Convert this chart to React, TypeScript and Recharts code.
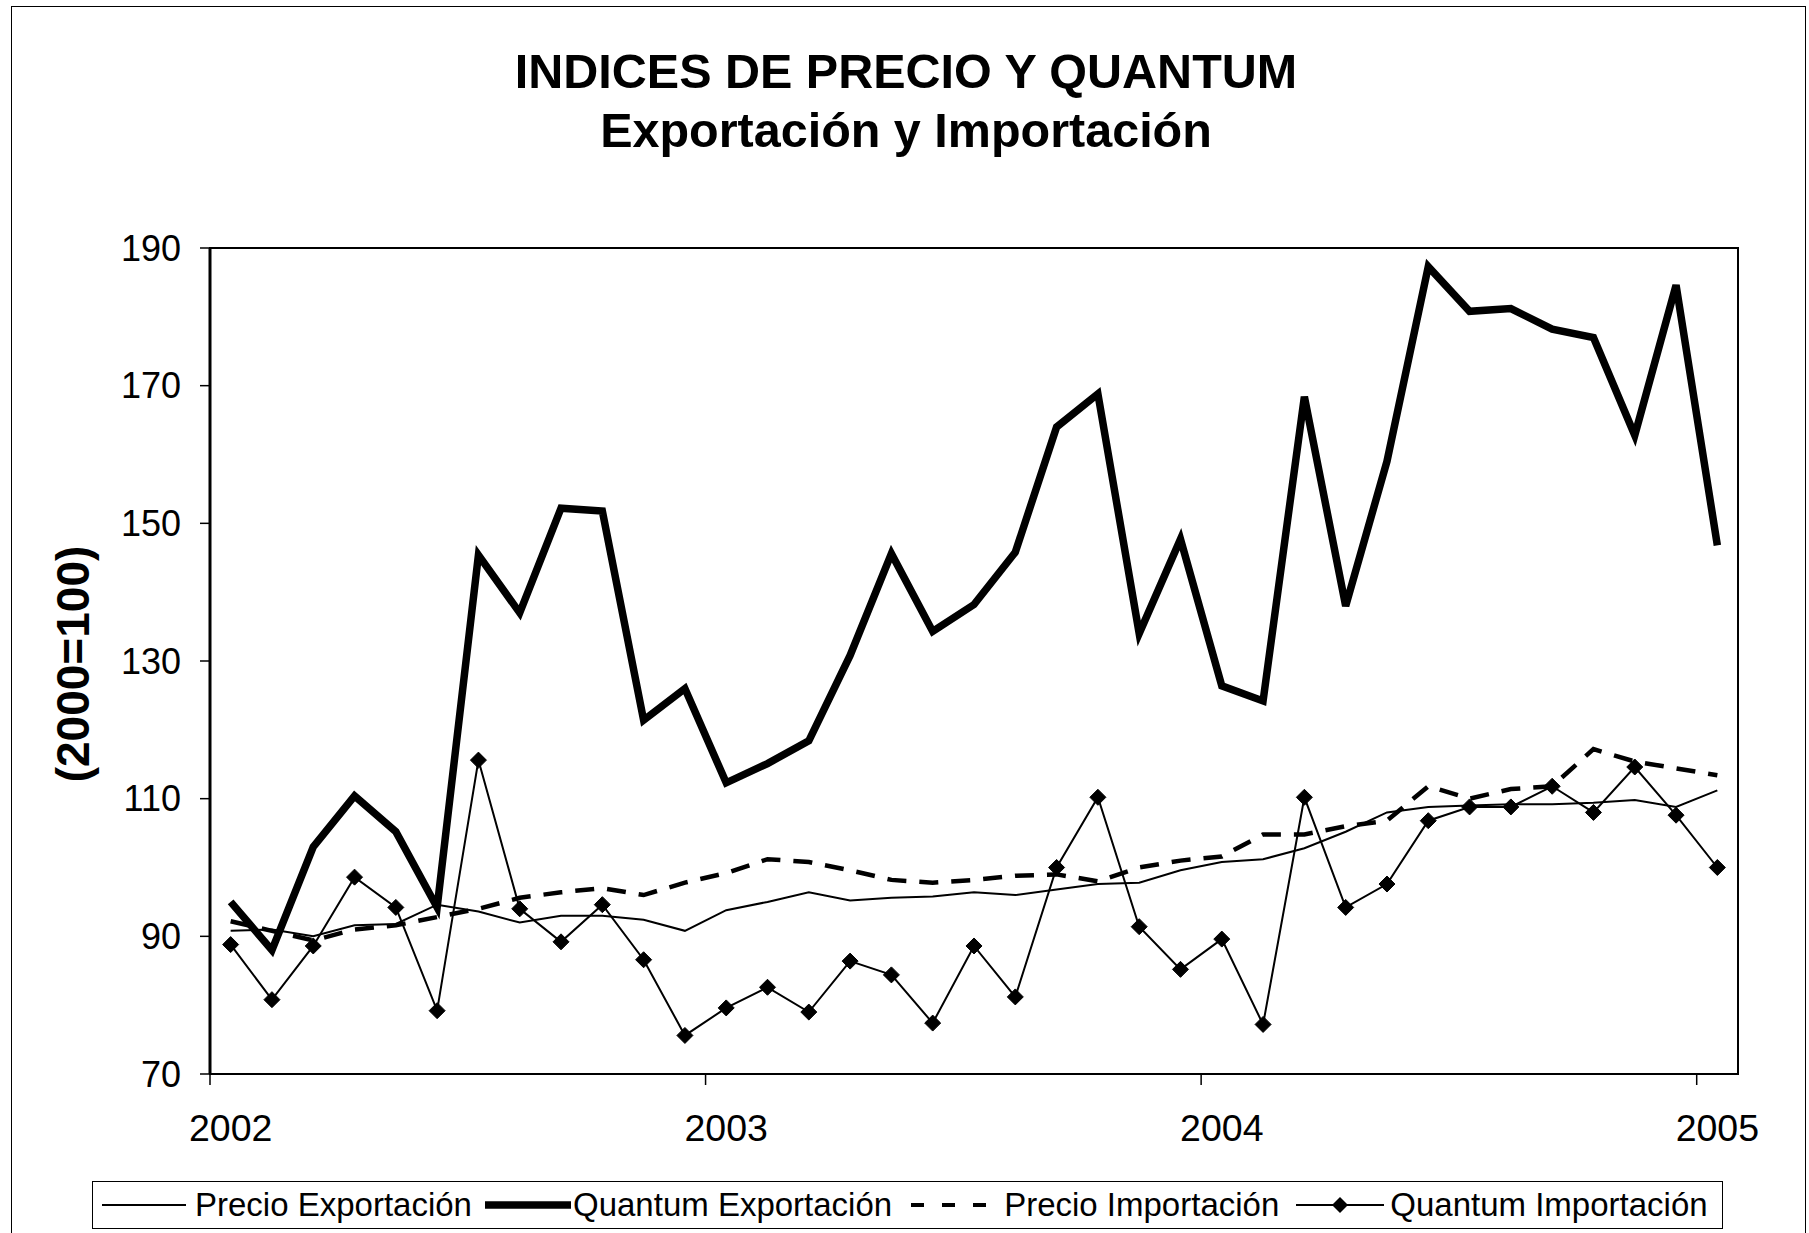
import React from 'react';
import { LineChart, Line, XAxis, YAxis, ReferenceArea, Legend } from 'recharts';

// ---- Data (monthly, Jan 2002 – Jan 2005, index 2000=100) ----
const YEAR_LABELS = ['2002', '2003', '2004', '2005'];
const X_TICKS = [0, 12, 24, 36];
const Y_TICKS = [70, 90, 110, 130, 150, 170, 190];

const precioExportacion = [
  90.8, 91, 90, 91.6, 91.8, 94.6, 93.6, 92, 93, 93, 92.4, 90.8,
  93.8, 95, 96.4, 95.2, 95.6, 95.8, 96.4, 96, 96.8, 97.6, 97.8, 99.6,
  100.8, 101.2, 102.8, 105.2, 108, 108.8, 109, 109.2, 109.2, 109.4, 109.8, 108.8,
  111.2,
];
const quantumExportacion = [
  95, 88, 103, 110.4, 105.2, 94.2, 145.4, 137, 152.2, 151.8, 121.4, 126,
  112.3, 115.1, 118.4, 130.8, 145.6, 134.3, 138.2, 145.8, 164, 168.8, 134, 147.7,
  126.4, 124.2, 168.4, 138, 159, 187.3, 180.8, 181.2, 178.2, 177, 162.8, 184.6,
  146.8,
];
const precioImportacion = [
  92.2, 90.8, 89.4, 91, 91.6, 92.8, 94, 95.6, 96.4, 97, 96, 97.8,
  99.2, 101.2, 100.8, 99.6, 98.2, 97.8, 98.2, 98.8, 99, 98, 100, 101,
  101.6, 104.8, 104.8, 106, 106.8, 111.8, 110, 111.4, 111.8, 117.2, 115.4, 114.4,
  113.4,
];
const quantumImportacion = [
  88.8, 80.8, 88.6, 98.6, 94.2, 79.2, 115.6, 94, 89.2, 94.6, 86.6, 75.6,
  79.6, 82.6, 79, 86.4, 84.4, 77.4, 88.6, 81.2, 100, 110.2, 91.4, 85.2,
  89.6, 77.2, 110.2, 94.2, 97.6, 106.8, 108.8, 108.8, 111.8, 108, 114.6, 107.6,
  100,
];

const SERIES_NAMES = ['Precio Exportación', 'Quantum Exportación', 'Precio Importación', 'Quantum Importación'];

const rows = precioExportacion.map((_, i) => ({
  t: i + 0.5,
  pe: precioExportacion[i],
  qe: quantumExportacion[i],
  pi: precioImportacion[i],
  qi: quantumImportacion[i],
}));

// ---- Layout ----
const W = 1809;
const H = 1233;
const MARGIN = { top: 248, right: 71, bottom: 99, left: 120 };
const Y_AXIS_W = 90;
const X_AXIS_H = 60;
const PLOT_W = W - MARGIN.left - Y_AXIS_W - MARGIN.right;
const N_SLOTS = 37;
const HALF_SLOT = PLOT_W / N_SLOTS / 2;
const FONT = '"Liberation Sans", Arial, Helvetica, sans-serif';

const XTick = (props: any) => {
  const { x, y, payload, index } = props;
  const i = X_TICKS.indexOf(payload.value);
  const label = YEAR_LABELS[i >= 0 ? i : index];
  return (
    <g>
      <line x1={x} x2={x} y1={y} y2={y + 11} stroke="#000" strokeWidth={1.5} />
      <text x={x + HALF_SLOT} y={y + 67} textAnchor="middle" fontSize={37.5} fontFamily={FONT} fill="#000">
        {label}
      </text>
    </g>
  );
};

const Diamond = (props: any) => {
  const { cx, cy } = props;
  if (cx == null || cy == null) return null;
  const s = 8;
  return (
    <polygon
      points={`${cx},${cy - s} ${cx + s},${cy} ${cx},${cy + s} ${cx - s},${cy}`}
      fill="#000"
      stroke="#000"
      strokeWidth={1}
    />
  );
};

const YLabel = (props: any) => {
  const vb = props.viewBox || { x: MARGIN.left, y: MARGIN.top, width: Y_AXIS_W, height: 826 };
  const cx = vb.x - 47;
  const cy = vb.y + vb.height / 2 + 3;
  return (
    <text
      x={cx}
      y={cy}
      transform={`rotate(-90 ${cx} ${cy})`}
      textAnchor="middle"
      dominantBaseline="central"
      fontSize={46}
      fontWeight="bold"
      fontFamily={FONT}
      fill="#000"
    >
      (2000=100)
    </text>
  );
};

const sample = (i: number) => {
  if (i === 0)
    return (
      <svg width={84} height={20} style={{ display: 'block' }}>
        <line x1={0} x2={84} y1={10} y2={10} stroke="#000" strokeWidth={2} />
      </svg>
    );
  if (i === 1)
    return (
      <svg width={86} height={20} style={{ display: 'block' }}>
        <line x1={0} x2={86} y1={10} y2={10} stroke="#000" strokeWidth={7.5} />
      </svg>
    );
  if (i === 2)
    return (
      <svg width={75} height={20} style={{ display: 'block' }}>
        <line x1={0} x2={75} y1={10} y2={10} stroke="#000" strokeWidth={4} strokeDasharray="13 18" />
      </svg>
    );
  return (
    <svg width={88} height={20} style={{ display: 'block' }}>
      <line x1={0} x2={88} y1={10} y2={10} stroke="#000" strokeWidth={2} />
      <polygon points="44,2 52,10 44,18 36,10" fill="#000" />
    </svg>
  );
};

const LEGEND_GAPS = [
  { before: 0, after: 9 },
  { before: 13, after: 2 },
  { before: 19, after: 18 },
  { before: 17, after: 6 },
];

const renderLegend = () => (
  <div
    style={{
      boxSizing: 'border-box',
      width: 1631,
      height: 48,
      border: '1.5px solid #000',
      display: 'flex',
      alignItems: 'center',
      paddingLeft: 9,
      fontFamily: FONT,
      fontSize: 33,
      color: '#000',
      background: '#fff',
      whiteSpace: 'nowrap',
    }}
  >
    {SERIES_NAMES.map((name, i) => (
      <div key={name} style={{ display: 'flex', alignItems: 'center', marginLeft: LEGEND_GAPS[i].before }}>
        {sample(i)}
        <span style={{ marginLeft: LEGEND_GAPS[i].after, lineHeight: '40px' }}>{name}</span>
      </div>
    ))}
  </div>
);

const titleStyle: React.CSSProperties = {
  position: 'absolute',
  left: 0,
  width: 1812,
  textAlign: 'center',
  fontFamily: FONT,
  fontWeight: 'bold',
  fontSize: 48.5,
  lineHeight: '48px',
  color: '#000',
};

export default function App() {
  return (
    <div style={{ position: 'absolute', left: 0, top: 0, width: W, height: H, background: '#fff', overflow: 'hidden' }}>
      <div
        style={{
          position: 'absolute',
          left: 11,
          top: 6,
          width: 1795,
          height: 1300,
          border: '1.5px solid #000',
          boxSizing: 'border-box',
        }}
      />
      <div style={{ ...titleStyle, top: 47 }}>INDICES DE PRECIO Y QUANTUM</div>
      <div style={{ ...titleStyle, top: 106 }}>Exportación y Importación</div>
      <div style={{ position: 'absolute', left: 0, top: 0 }}>
        <LineChart width={W} height={H} data={rows} margin={MARGIN}>
          <XAxis
            dataKey="t"
            type="number"
            domain={[0, N_SLOTS]}
            ticks={X_TICKS}
            interval={0}
            tick={<XTick />}
            tickLine={false}
            tickSize={0}
            tickMargin={0}
            height={X_AXIS_H}
            axisLine={{ stroke: '#000', strokeWidth: 2 }}
            allowDataOverflow
          />
          <YAxis
            type="number"
            domain={[70, 190]}
            ticks={Y_TICKS}
            interval={0}
            width={Y_AXIS_W}
            tickSize={10}
            tickMargin={19}
            tick={{ fontSize: 36, fill: '#000', fontFamily: FONT }}
            tickLine={{ stroke: '#000', strokeWidth: 1.5 }}
            axisLine={{ stroke: '#000', strokeWidth: 3 }}
            label={{ content: <YLabel /> } as any}
            allowDataOverflow
          />
          <ReferenceArea
            x1={0}
            x2={N_SLOTS}
            y1={70}
            y2={190}
            fill="none"
            fillOpacity={0}
            stroke="#000"
            strokeWidth={2}
            ifOverflow="visible"
          />
          <Line
            type="linear"
            dataKey="pe"
            name={SERIES_NAMES[0]}
            stroke="#000"
            strokeWidth={2}
            dot={false}
            activeDot={false}
            isAnimationActive={false}
          />
          <Line
            type="linear"
            dataKey="qe"
            name={SERIES_NAMES[1]}
            stroke="#000"
            strokeWidth={7.5}
            strokeLinejoin="miter"
            dot={false}
            activeDot={false}
            isAnimationActive={false}
          />
          <Line
            type="linear"
            dataKey="pi"
            name={SERIES_NAMES[2]}
            stroke="#000"
            strokeWidth={4.5}
            strokeDasharray="19 13"
            dot={false}
            activeDot={false}
            isAnimationActive={false}
          />
          <Line
            type="linear"
            dataKey="qi"
            name={SERIES_NAMES[3]}
            stroke="#000"
            strokeWidth={2}
            dot={<Diamond />}
            activeDot={false}
            isAnimationActive={false}
          />
          <Legend
            layout="horizontal"
            verticalAlign="middle"
            align="center"
            content={renderLegend}
            wrapperStyle={{ left: 92, top: 1181, width: 1631, height: 48 }}
          />
        </LineChart>
      </div>
    </div>
  );
}
